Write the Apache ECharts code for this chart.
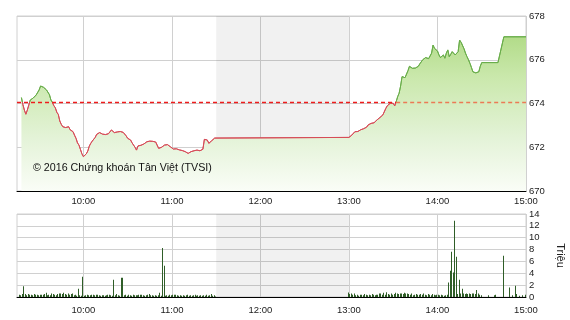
<!DOCTYPE html>
<html><head><meta charset="utf-8">
<script src="https://cdn.jsdelivr.net/npm/echarts@6/dist/echarts.min.js"></script>
<style>html,body{margin:0;padding:0;background:#fff}#c{width:570px;height:320px}</style>
</head><body><div id="c"></div>
<script>
// ---------- data ----------
const priceTimes = ['9:18','9:19','9:20','9:21','9:22','9:23','9:24','9:25','9:26','9:27','9:28','9:29','9:30','9:31','9:32','9:33','9:34','9:35','9:36','9:37','9:38','9:39','9:40','9:41','9:42','9:43','9:44','9:45','9:46','9:47','9:48','9:49','9:50','9:51','9:52','9:53','9:54','9:55','9:56','9:57','9:58','9:59',
'10:00','10:01','10:02','10:03','10:04','10:05','10:06','10:07','10:08','10:09','10:10','10:11','10:12','10:13','10:14','10:15','10:16','10:17','10:18','10:19','10:20','10:21','10:22','10:23','10:24','10:25','10:26','10:27','10:28','10:29','10:30','10:31','10:32','10:33','10:34','10:35','10:36','10:37','10:38','10:39','10:40','10:41','10:42','10:43','10:44','10:45','10:46','10:47','10:48','10:49','10:50','10:51','10:52','10:53','10:54','10:55','10:56','10:57','10:58','10:59',
'11:00','11:01','11:02','11:03','11:04','11:05','11:06','11:07','11:08','11:09','11:10','11:11','11:12','11:13','11:14','11:15','11:16','11:17','11:18','11:19','11:20','11:21','11:22','11:23','11:24','11:25','11:26','11:27','11:28','11:29','11:30',
'13:00','13:01','13:02','13:03','13:04','13:05','13:06','13:07','13:08','13:09','13:10','13:11','13:12','13:13','13:14','13:15','13:16','13:17','13:18','13:19','13:20','13:21','13:22','13:23','13:24','13:25','13:26','13:27','13:28','13:29','13:30','13:31','13:32','13:33','13:34','13:35','13:36','13:37','13:38','13:39','13:40','13:41','13:42','13:43','13:44','13:45','13:46','13:47','13:48','13:49','13:50','13:51','13:52','13:53','13:54','13:55','13:56','13:57','13:58','13:59',
'14:00','14:01','14:02','14:03','14:04','14:05','14:06','14:07','14:08','14:09','14:10','14:11','14:12','14:13','14:14','14:15','14:16','14:17','14:18','14:19','14:20','14:21','14:22','14:23','14:24','14:25','14:26','14:27','14:28','14:29','14:30','14:41','14:45','15:00'];
const priceValues = [674.27,673.95,673.70,673.51,673.70,673.93,674.16,674.10,674.25,674.21,674.39,674.45,674.62,674.80,674.72,674.74,674.66,674.62,674.66,674.40,674.16,674.05,673.90,673.80,673.60,673.50,673.20,673.05,672.94,672.87,672.90,672.88,672.94,672.80,672.75,672.71,672.55,672.41,672.20,672.10,671.90,671.70,
671.57,671.62,671.70,671.83,672.05,672.18,672.28,672.33,672.45,672.59,672.62,672.67,672.64,672.60,672.62,672.58,672.56,672.62,672.65,672.79,672.70,672.67,672.66,672.70,672.68,672.72,672.66,672.68,672.60,672.52,672.41,672.38,672.33,672.20,672.10,672.00,671.87,672.06,672.04,672.09,672.08,672.15,672.18,672.25,672.30,672.28,672.30,672.27,672.29,672.24,672.21,671.95,671.91,672.00,672.06,672.10,672.15,672.12,672.10,672.02,
671.95,671.92,671.87,671.93,671.91,671.88,671.87,671.85,671.84,671.80,671.76,671.72,671.76,671.80,671.80,671.84,671.86,671.87,671.85,671.84,671.88,671.91,672.36,672.34,672.33,672.18,672.22,672.30,672.36,672.42,672.45,
672.45,672.50,672.56,672.62,672.71,672.70,672.72,672.74,672.80,672.87,672.85,672.82,672.92,673.02,673.05,673.09,673.08,673.12,673.17,673.25,673.32,673.36,673.40,673.48,673.55,673.78,673.90,673.95,674.01,674.05,674.01,673.89,674.08,674.31,674.47,674.80,675.23,675.15,675.18,675.26,675.50,675.70,675.76,675.61,675.68,675.62,675.56,675.70,675.81,675.90,676.00,676.07,676.10,676.11,676.05,676.07,676.30,676.67,676.52,676.45,
676.40,676.22,676.10,676.02,676.22,676.07,676.30,676.45,676.14,676.25,676.37,676.30,676.22,676.30,676.37,676.90,676.80,676.75,676.50,676.30,676.14,676.00,675.84,675.65,675.45,675.53,675.40,675.35,675.45,675.70,675.87,675.87,677.05,677.05];
const refValue = 674.08;          // reference (previous close) level
const refCrossTime = '13:32';     // where the index moves above the reference

const volMorningStart = '9:15';   // one value per minute
const volMorning = [0,0,0.4,0.3,0.5,1.8,0.5,0.3,0.5,0.4,0.4,0.3,0.5,0.4,0.4,0.3,0.4,0.4,0.4,0.5,0.7,0.3,0.4,0.3,0.6,0.5,0.4,0.3,0.5,0.6,0.6,0.5,0.7,0.5,0.4,0.6,0.4,0.5,0.6,0.3,0.4,0.2,1.4,0.3,0.2,
3.4,0.2,0.3,0.4,0.3,0.3,0.4,0.4,0.3,0.4,0.4,0.3,0.2,0.3,0.3,0.2,0.3,0.4,0.4,0.3,0.2,2.9,0.3,0.5,0.3,0.2,3.25,3.25,0.3,0.4,0.2,0.4,0.3,0.2,0.4,0.3,0.3,0.3,0.4,0.4,0.4,0.3,0.2,0.3,0.4,0.5,0.3,0.3,0.2,0.3,0.2,0.3,0.7,0.2,8.26,5.28,0.2,0.3,0.2,0.4,
0.3,0.4,0.4,0.4,0.3,0.2,0.3,0.2,0.3,0.2,0.3,0.4,0.2,0.3,0.2,0.3,0.4,0.2,0.3,0.2,0.3,0.2,0.3,0.2,0.4,0.2,0.3,0.5,0.2,0.3,0.1];
const volAfternoonStart = '13:00';
const volAfternoon = [0.78,0.5,0.6,0.4,0.6,0.3,0.4,0.2,0.4,0.4,0.3,0.5,0.4,0.3,0.4,0.3,0.5,0.4,0.3,0.4,0.4,0.6,0.6,0.4,0.7,0.4,0.8,0.5,0.4,0.6,0.4,0.5,0.7,0.6,0.5,0.6,0.6,0.5,0.7,0.6,0.6,0.5,0.4,0.6,0.3,0.4,0.5,0.4,0.4,0.5,0.4,0.6,0.4,0.3,0.5,0.4,0.3,0.5,0.4,0.3,
0.4,0.4,0.3,0.4,0.3,0.2,0.3,0.4,2.46,4.43,7.64,4.15,12.87,6.8,0.5,2.9,0.6,1.4,0.6,0.5,0.6,0.5,0.6,0.5,0.6,0.6,0.5,1.2,0.6,0.4,0.3];
const volLateTimes = ['14:35','14:39','14:40','14:45','14:49','14:51','14:53','14:54','14:56','14:58','15:00'];
const volLateValues = [0.3,0.3,0.4,6.96,1.6,0.3,1.9,0.5,0.2,0.3,0.4];

const xTickLabels = ['10:00','11:00','12:00','13:00','14:00','15:00'];
const sessionStart = '9:15', sessionEnd = '15:00';
const lunchBreak = ['11:30','13:00'];
const priceAxis = {min: 670, max: 678, step: 2};
const volAxis = {min: 0, max: 14, step: 2};
const volUnit = 'Triệu';
const watermark = '© 2016 Chứng khoán Tân Việt (TVSI)';

// ---------- helpers ----------
const toMin = s => { const [h, m] = s.split(':').map(Number); return h * 60 + m; };
const fmt = v => Math.floor(v / 60) + ':' + String(Math.round(v % 60)).padStart(2, '0');
const priceData = priceTimes.map((t, i) => [toMin(t), priceValues[i]]);
const volData = [];
volMorning.forEach((v, i) => { if (v > 0) volData.push([toMin(volMorningStart) + i, v]); });
volAfternoon.forEach((v, i) => { if (v > 0) volData.push([toMin(volAfternoonStart) + i, v]); });
volLateTimes.forEach((t, i) => volData.push([toMin(t), volLateValues[i]]));
const tickVals = xTickLabels.map(toMin);

const FONT = 'Liberation Sans, Arial, sans-serif';
const LBL = 9.5;
const RED = '#d64c58', GREEN = '#69ad4a';
const band = () => ({silent: true, itemStyle: {color: 'rgba(0,0,0,0.055)'},
  data: [[{xAxis: toMin(lunchBreak[0])}, {xAxis: toMin(lunchBreak[1])}]]});

function xAxisDef(gi, margin) {
  return {
    type: 'value', gridIndex: gi, min: toMin(sessionStart), max: toMin(sessionEnd),
    axisLine: {show: true, onZero: false, lineStyle: {color: '#000', width: 1}},
    axisTick: {show: false, customValues: tickVals},
    axisLabel: {customValues: tickVals, formatter: fmt, color: '#222', fontSize: LBL, fontFamily: FONT, margin: margin},
    splitLine: {show: true, lineStyle: {color: '#d0d0d0', width: 1}}
  };
}

const chart = echarts.init(document.getElementById('c'), null, {renderer: 'canvas'});
chart.setOption({
  animation: false,
  backgroundColor: '#fff',
  grid: [
    {left: 17, right: 44, top: 16, height: 175, show: true, borderColor: '#d0d0d0', borderWidth: 1, outerBoundsMode: 'none', containLabel: false},
    {left: 17, right: 44, top: 214, height: 83, show: true, borderColor: '#d0d0d0', borderWidth: 1, outerBoundsMode: 'none', containLabel: false}
  ],
  xAxis: [xAxisDef(0, 5), xAxisDef(1, 8)],
  yAxis: [
    {type: 'value', gridIndex: 0, position: 'right', min: priceAxis.min, max: priceAxis.max, interval: priceAxis.step,
     axisLine: {show: false}, axisTick: {show: false},
     axisLabel: {color: '#222', fontSize: LBL, fontFamily: FONT, margin: 3},
     splitLine: {lineStyle: {color: '#d0d0d0'}}},
    {type: 'value', gridIndex: 1, position: 'right', min: volAxis.min, max: volAxis.max, interval: volAxis.step,
     axisLine: {show: false}, axisTick: {show: false},
     axisLabel: {color: '#222', fontSize: LBL, fontFamily: FONT, margin: 3},
     splitLine: {lineStyle: {color: '#d0d0d0'}},
     name: volUnit, nameLocation: 'middle', nameRotate: -90, nameGap: 29,
     nameTextStyle: {color: '#222', fontSize: 11, fontFamily: FONT}}
  ],
  graphic: [{
    type: 'text', left: 33, top: 163, z: 100,
    style: {text: watermark, fill: '#111', font: '10.7px ' + FONT}
  }],
  series: [
    {
      id: 'price', type: 'line', xAxisIndex: 0, yAxisIndex: 0, data: priceData,
      showSymbol: false, symbol: 'none', lineStyle: {width: 1, color: RED},
      areaStyle: {opacity: 1, origin: 'start', color: {type: 'linear', x: 0, y: 16, x2: 0, y2: 191, global: true,
        colorStops: [{offset: 0, color: '#a6d577'}, {offset: 0.35, color: '#cae8ac'}, {offset: 0.7, color: '#e4f3d8'}, {offset: 1, color: '#fafdf7'}]}},
      markArea: band(),
      markLine: {
        silent: true, symbol: 'none', label: {show: false}, z: 5,
        data: [
          [{coord: [toMin(sessionStart), refValue], lineStyle: {color: '#ee1c1c', type: [4, 3], width: 1.3}},
           {coord: [toMin(refCrossTime), refValue]}],
          [{coord: [toMin(refCrossTime), refValue], lineStyle: {color: '#ec7a55', type: [4, 3], width: 1.3}},
           {coord: [toMin(sessionEnd), refValue]}]
        ]
      }
    },
    {
      type: 'custom', xAxisIndex: 1, yAxisIndex: 1, data: volData,
      renderItem: function (params, api) {
        const p0 = api.coord([api.value(0), 0]);
        const p1 = api.coord([api.value(0), api.value(1)]);
        const x = Math.round(p0[0]) - 1;
        return {type: 'rect', shape: {x: x, y: p1[1], width: 1, height: p0[1] - p1[1]}, style: {fill: '#2f5e28'}};
      },
      markArea: band()
    }
  ]
});

// colour the price line red below the reference level and green above it
const yRef = chart.convertToPixel({yAxisIndex: 0}, refValue);
const yTop = chart.convertToPixel({yAxisIndex: 0}, priceAxis.max);
const yBot = chart.convertToPixel({yAxisIndex: 0}, priceAxis.min);
const k = (yRef - yTop) / (yBot - yTop);
chart.setOption({series: [{id: 'price', lineStyle: {color: {type: 'linear', x: 0, y: yTop, x2: 0, y2: yBot, global: true,
  colorStops: [{offset: 0, color: GREEN}, {offset: k, color: GREEN}, {offset: k, color: RED}, {offset: 1, color: RED}]}}}]});
</script>
</body></html>
